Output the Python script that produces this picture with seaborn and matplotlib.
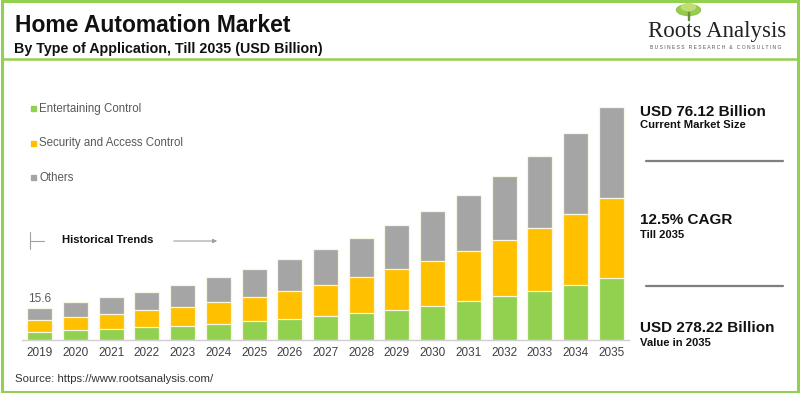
import pandas as pd
import numpy as np
import matplotlib.pyplot as plt
import seaborn as sns
from matplotlib.patches import Rectangle, Ellipse, FancyArrowPatch
from matplotlib.lines import Line2D

# --- données ---
years = [str(y) for y in range(2019, 2036)]
entertaining = [4.0, 4.9, 5.4, 6.2, 6.7, 7.7, 9.1, 10.1, 11.6, 13.2, 14.6, 16.4, 18.9, 21.3, 23.7, 27.0, 30.4]
security = [5.7, 6.2, 7.5, 8.4, 9.6, 11.0, 12.0, 13.8, 15.4, 17.4, 19.8, 21.9, 24.4, 27.3, 31.0, 34.6, 39.0]
others = [5.9, 7.2, 7.9, 8.8, 10.6, 11.9, 13.7, 15.5, 17.3, 19.2, 21.5, 24.5, 27.6, 31.2, 34.8, 39.5, 44.4]
series_names = ["Entertaining Control", "Security and Access Control", "Others"]
first_label = "15.6"

kpis = [("USD 76.12 Billion", "Current Market Size"),
        ("12.5% CAGR", "Till 2035"),
        ("USD 278.22 Billion", "Value in 2035")]

GREEN = '#92d050'
YELLOW = '#ffc000'
GRAY = '#a5a5a5'

df = pd.DataFrame({'year': years, 'ent': entertaining, 'sec': security, 'oth': others})
df['lvl1'] = df['ent']
df['lvl2'] = df['ent'] + df['sec']
df['lvl3'] = df['lvl2'] + df['oth']

sns.set_style('white')
plt.rcParams['font.family'] = ['Liberation Sans', 'DejaVu Sans']

W, H = 800, 393
fig = plt.figure(figsize=(8, 3.93), dpi=100)


def fx(x):
    return x / W


def fy(y):
    return 1 - y / H


# axes des barres : x de 22 à 629 px, base à 340 px
ax = fig.add_axes([fx(22), fy(340), fx(629) - fx(22), (340 - 100) / H])
edge = '#f9f7e4'
for col, c in [('lvl3', GRAY), ('lvl2', YELLOW), ('lvl1', GREEN)]:
    sns.barplot(data=df, x='year', y=col, order=years, color=c, width=0.7,
                saturation=1, edgecolor=edge, linewidth=0.9, ax=ax)

ax.set_xlim(-0.5, len(years) - 0.5)
ax.set_ylim(0, 240 * 0.4875)
ax.set_xlabel('')
ax.set_ylabel('')
ax.set_yticks([])
ax.tick_params(axis='x', length=0, pad=5, labelsize=8.5, labelcolor='#404040')
for s in ['top', 'right', 'left']:
    ax.spines[s].set_visible(False)
ax.spines['bottom'].set_color('#d0d0d0')
ax.spines['bottom'].set_linewidth(1)
ax.patch.set_alpha(0)

ax.text(0, df['lvl3'].iloc[0] + 1.4, first_label, ha='center', va='bottom',
        fontsize=8.5, color='#595959')

# titre
fig.text(fx(15), fy(32), "Home Automation Market", fontsize=16.5, fontweight='bold',
         color='#111111', va='baseline')
fig.text(fx(14), fy(53), "By Type of Application, Till 2035 (USD Billion)", fontsize=10.3,
         fontweight='bold', color='#111111', va='baseline')

# logo
fig.text(fx(717), fy(36.5), "Roots Analysis", fontsize=16.5, family=['Liberation Serif'],
         color='#222222', va='baseline', ha='center')
fig.text(fx(716), fy(47.5), "B U S I N E S S   R E S E A R C H   &   C O N S U L T I N G",
         fontsize=3.6, color='#555555', va='center', ha='center')
lax = fig.add_axes([fx(672), fy(22), (705 - 672) / W, 20 / H])
lax.set_xlim(0, 33)
lax.set_ylim(0, 20)
lax.axis('off')
lax.add_patch(Ellipse((16.5, 12), 24, 11, color='#8cc63f', alpha=0.9))
lax.add_patch(Ellipse((16.5, 15), 14, 7, color='#c5e07a', alpha=0.9))
lax.add_patch(Rectangle((15.8, 2), 1.4, 8, color='#6a8f3a'))

# bordure et ligne sous le titre
fig.patches.append(Rectangle((0.002, 0.003), 0.995, 0.994, transform=fig.transFigure,
                             fill=False, edgecolor=GREEN, linewidth=2.2))
fig.lines.append(Line2D([fx(3), fx(797)], [fy(59), fy(59)], transform=fig.transFigure,
                        color=GREEN, linewidth=1.8))

# légende
for i, (name, col) in enumerate(zip(series_names, [GREEN, YELLOW, GRAY])):
    yc = 109 + i * 34.5
    fig.patches.append(Rectangle((fx(31), fy(yc + 2)), 5 / W, 5 / H, transform=fig.transFigure,
                                 color=col))
    fig.text(fx(39), fy(yc), name, fontsize=8.3, color='#595959', va='center')

# historique
fig.lines.append(Line2D([fx(30), fx(30)], [fy(232), fy(249)], transform=fig.transFigure,
                        color='#a0a0a0', linewidth=0.8))
fig.lines.append(Line2D([fx(30), fx(44)], [fy(241), fy(241)], transform=fig.transFigure,
                        color='#a0a0a0', linewidth=0.8))
fig.text(fx(62), fy(240), "Historical Trends", fontsize=8.1, fontweight='bold',
         color='#111111', va='center')
fig.patches.append(FancyArrowPatch(
    (fx(171), fy(241)), (fx(220), fy(241)), transform=fig.transFigure,
    arrowstyle='-|>', mutation_scale=6, color='#a0a0a0', linewidth=0.8))

# panneau de droite
big_base = [115.5, 223.5, 332]
small_base = [128.5, 237.5, 346]
for (big, small), yb, ys in zip(kpis, big_base, small_base):
    fig.text(fx(640), fy(yb), big, fontsize=11, fontweight='bold', color='#111111',
             va='baseline')
    fig.text(fx(640), fy(ys), small, fontsize=8.1, fontweight='bold', color='#111111',
             va='baseline')
for yl in [160.5, 286]:
    fig.lines.append(Line2D([fx(646), fx(783)], [fy(yl), fy(yl)], transform=fig.transFigure,
                            color='#7f7f7f', linewidth=1.6))

# source
fig.text(fx(15), fy(379), "Source: https://www.rootsanalysis.com/", fontsize=8.2,
         color='#333333', va='center')

plt.savefig('out.png', dpi=100)
plt.close()
